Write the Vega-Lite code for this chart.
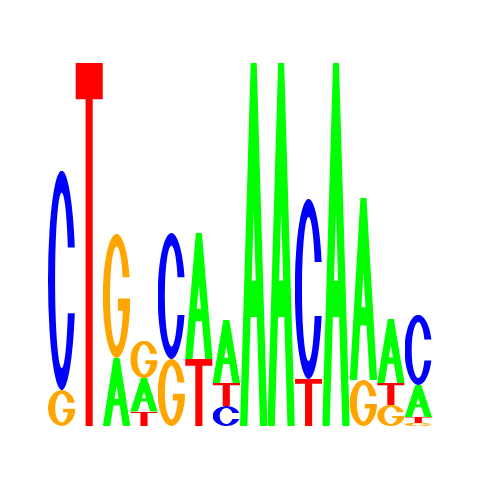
{
  "$schema": "https://vega.github.io/schema/vega-lite/v6.json",
  "width": 384,
  "height": 363,
  "autosize": "none",
  "padding": {"left": 48, "top": 63, "right": 48, "bottom": 54},
  "config": {"view": {"stroke": null}},
  "data": {
    "values": [
      {"pos": 1, "base": "G", "bits": 0.198},
      {"pos": 1, "base": "C", "bits": 1.209},
      {"pos": 2, "base": "T", "bits": 2.0},
      {"pos": 3, "base": "A", "bits": 0.375},
      {"pos": 3, "base": "G", "bits": 0.683},
      {"pos": 4, "base": "T", "bits": 0.079},
      {"pos": 4, "base": "A", "bits": 0.185},
      {"pos": 4, "base": "G", "bits": 0.206},
      {"pos": 5, "base": "G", "bits": 0.369},
      {"pos": 5, "base": "C", "bits": 0.694},
      {"pos": 6, "base": "T", "bits": 0.369},
      {"pos": 6, "base": "A", "bits": 0.694},
      {"pos": 7, "base": "C", "bits": 0.110},
      {"pos": 7, "base": "T", "bits": 0.127},
      {"pos": 7, "base": "A", "bits": 0.347},
      {"pos": 8, "base": "A", "bits": 2.0},
      {"pos": 9, "base": "A", "bits": 2.0},
      {"pos": 10, "base": "T", "bits": 0.259},
      {"pos": 10, "base": "C", "bits": 0.992},
      {"pos": 11, "base": "A", "bits": 2.0},
      {"pos": 12, "base": "G", "bits": 0.253},
      {"pos": 12, "base": "A", "bits": 1.003},
      {"pos": 13, "base": "G", "bits": 0.116},
      {"pos": 13, "base": "T", "bits": 0.121},
      {"pos": 13, "base": "A", "bits": 0.353},
      {"pos": 14, "base": "G", "bits": 0.017},
      {"pos": 14, "base": "T", "bits": 0.033},
      {"pos": 14, "base": "A", "bits": 0.176},
      {"pos": 14, "base": "C", "bits": 0.386}
    ]
  },
  "transform": [
    {
      "stack": "bits",
      "groupby": ["pos"],
      "sort": [{"field": "bits", "order": "ascending"}],
      "as": ["y0", "y1"]
    }
  ],
  "mark": {"type": "image", "aspect": false},
  "encoding": {
    "x": {
      "field": "pos",
      "type": "ordinal",
      "scale": {"paddingInner": 0, "paddingOuter": 0},
      "axis": null
    },
    "y": {
      "field": "y0",
      "type": "quantitative",
      "scale": {"domain": [0, 2]},
      "axis": null
    },
    "y2": {"field": "y1"},
    "url": {
      "condition": [
        {
          "test": "datum.base === 'A'",
          "value": "data:image/svg+xml;utf8,%3Csvg xmlns='http://www.w3.org/2000/svg' width='100' height='100' viewBox='0 0 100 100' preserveAspectRatio='none'%3E%3Cpath fill='%2300ff00' fill-rule='evenodd' d='M0 100L39 0L61 0L100 100L73 100L61.3 70L38.7 70L27 100Z M42.6 60L57.4 60L50 41Z'/%3E%3C/svg%3E"
        },
        {
          "test": "datum.base === 'C'",
          "value": "data:image/svg+xml;utf8,%3Csvg xmlns='http://www.w3.org/2000/svg' width='100' height='100' viewBox='0 0 100 100' preserveAspectRatio='none'%3E%3Cpath fill='%230000ff' d='M97.7 35A50 50 0 1 0 97.7 65L72.2 65A24 40 0 1 1 72.2 35Z'/%3E%3C/svg%3E"
        },
        {
          "test": "datum.base === 'G'",
          "value": "data:image/svg+xml;utf8,%3Csvg xmlns='http://www.w3.org/2000/svg' width='100' height='100' viewBox='0 0 100 100' preserveAspectRatio='none'%3E%3Cpath fill='%23ffa500' d='M97.7 35A50 50 0 1 0 99 60L99 52L55 52L55 62L72.9 62A24 40 0 1 1 72.2 35Z'/%3E%3C/svg%3E"
        }
      ],
      "value": "data:image/svg+xml;utf8,%3Csvg xmlns='http://www.w3.org/2000/svg' width='100' height='100' viewBox='0 0 100 100' preserveAspectRatio='none'%3E%3Cpath fill='%23ff0000' d='M0 0H100V10H63V100H37V10H0Z'/%3E%3C/svg%3E"
    }
  }
}
